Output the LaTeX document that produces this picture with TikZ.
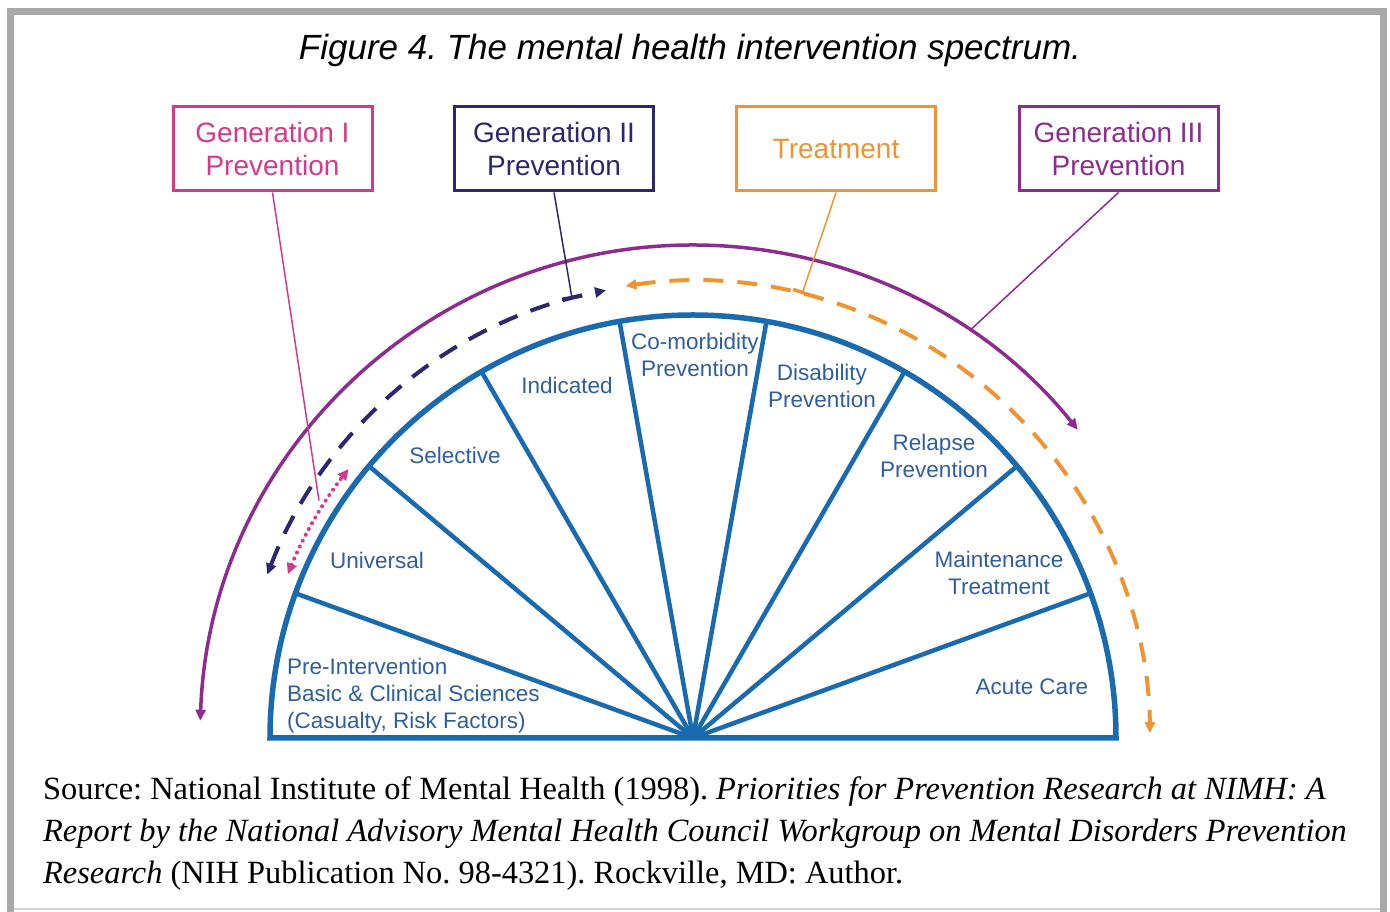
\documentclass[tikz,border=0pt]{standalone}
\usepackage{fontspec}
\setmainfont{Liberation Serif}
\setsansfont{Liberation Sans}
\usetikzlibrary{arrows.meta}
\frenchspacing

\definecolor{genone}{RGB}{212,58,140}
\definecolor{gentwo}{RGB}{44,40,112}
\definecolor{treatorange}{RGB}{238,148,50}
\definecolor{genthree}{RGB}{140,44,142}
\definecolor{segblue}{RGB}{26,106,176}
\definecolor{segtext}{RGB}{46,94,162}
\definecolor{framegray}{RGB}{168,168,168}

\tikzset{
  genbox/.style={draw, line width=3, minimum width=199, minimum height=84,
    align=center, font=\sffamily\fontsize{28}{33}\selectfont},
  seglabel/.style={text=segtext, align=center, inner sep=0,
    font=\sffamily\fontsize{22.5}{27}\selectfont},
  spantip/.tip={Triangle[length=11pt, width=10pt]}
}

\begin{document}
\begin{tikzpicture}[x=1pt, y=1pt]
  \useasboundingbox (0,0) rectangle (1390,912);

  % frame
  \draw[framegray, line width=7] (10.5,-5) -- (10.5,900.5) -- (1383.5,900.5) -- (1383.5,-5);
  \draw[framegray!50, line width=1.5] (14,3) -- (1380,3);

  \node[font=\sffamily\itshape\fontsize{35}{40}\selectfont] (title) at (690,862)
    {Figure 4. The mental health intervention spectrum.};

  \coordinate (C) at (693,174);

  % the half disc and its spokes
  \draw[segblue, line width=5.5] ([shift={(0:423)}]C)
    arc[start angle=0, end angle=180, radius=423] -- cycle;
  \foreach \a in {20,40,...,160}
    \draw[segblue, line width=4.5] (C) -- ([shift={(\a:423)}]C);

  \begin{scope}[every node/.style={seglabel}]
    \node[anchor=west, align=left] (pre) at (287,216)
      {Pre-Intervention\\Basic \& Clinical Sciences\\(Casualty, Risk Factors)};
    \node (univ)  at (377,352) {Universal};
    \node (sel)   at (455,457) {Selective};
    \node (ind)   at (567,527) {Indicated};
    \node (comor) at (695,557) {Co-morbidity\\Prevention};
    \node (disab) at (822,526) {Disability\\Prevention};
    \node (relap) at (934,456) {Relapse\\Prevention};
    \node (maint) at (999,339) {Maintenance\\Treatment};
    \node (acute) at (1032,225) {Acute Care};
  \end{scope}

  % spans over the spectrum
  \draw[genthree, line width=3.5, {spantip}-{spantip}] ([shift={(178:493)}]C)
    arc[start angle=178, end angle=38.7, radius=493];
  \draw[gentwo, line width=4, dash pattern=on 20pt off 14pt, {spantip}-{spantip}]
    ([shift={(159:456)}]C) arc[start angle=159, end angle=101, radius=456];
  \draw[treatorange, line width=4, dash pattern=on 20pt off 14pt, {spantip}-{spantip}]
    ([shift={(98.5:457)}]C) arc[start angle=98.5, end angle=0.6, radius=457];
  \draw[genone, line width=4, dash pattern=on 0.1pt off 6.5pt, line cap=round, {spantip}-{spantip}]
    ([shift={(158:437)}]C) arc[start angle=158, end angle=142, radius=437];

  \coordinate (gen1tip) at ([shift={(147.6:443)}]C);
  \coordinate (gen2tip) at ([shift={(105.4:455)}]C);
  \coordinate (treattip) at ([shift={(76.2:457)}]C);
  \coordinate (gen3tip) at ([shift={(55.8:493)}]C);

  \begin{scope}[every node/.style={genbox}]
    \node[genone]      (gen1)  at (272.5,763) {Generation I\\Prevention};
    \node[gentwo]      (gen2)  at (554,763)   {Generation II\\Prevention};
    \node[treatorange] (treat) at (836,763)   {Treatment};
    \node[genthree]    (gen3)  at (1118.5,763) {Generation III\\Prevention};
  \end{scope}

  \begin{scope}[line width=1.5]
    \path[genone]       (gen1.south)  edge (gen1tip);
    \path[gentwo]       (gen2.south)  edge[-{Bar[width=20pt, line width=3.5pt]}] (gen2tip);
    \path[treatorange]  (treat.south) edge[-{Bar[width=20pt, line width=3.5pt]}] (treattip);
    \path[genthree]     (gen3.south)  edge (gen3tip);
  \end{scope}

  \node[anchor=north west, inner sep=0, align=left,
        font=\fontsize{32.4}{42}\selectfont] (source) at (43,136)
    {Source: National Institute of Mental Health (1998). \textit{Priorities for Prevention Research at NIMH: A}\\
     \textit{Report by the National Advisory Mental Health Council Workgroup on Mental Disorders Prevention}\\
     \textit{Research} (NIH Publication No. 98-4321). Rockville, MD: Author.};
\end{tikzpicture}
\end{document}
